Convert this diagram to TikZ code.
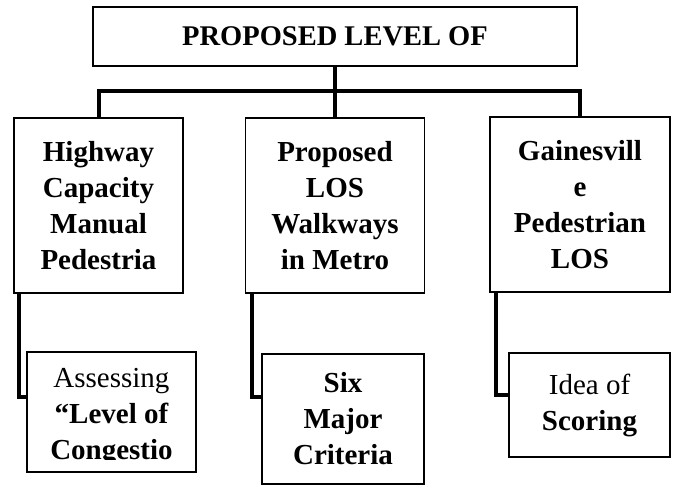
\documentclass[tikz,border=0pt]{standalone}
\usepackage{fontspec}
\setmainfont{Liberation Serif}
\usetikzlibrary{positioning}

\begin{document}
\begin{tikzpicture}[x=1pt, y=-1pt,
    box/.style={draw, line width=1.5pt, inner sep=0pt, align=center,
                font=\bfseries\fontsize{29}{36}\selectfont},
    link/.style={line width=4pt, line join=miter}]
    \useasboundingbox (0,0) rectangle (673,485);

    % Draw title box
    \node[box, minimum width=484pt, minimum height=59pt,
          font=\bfseries\fontsize{28.5}{32}\selectfont] (top) at (335,36.5) {PROPOSED LEVEL OF};

    % Draw the three upper boxes
    \node[box, minimum width=169pt, minimum height=175pt] (hcm) at (98.5,205.5)
        {Highway\\Capacity\\Manual\\Pedestria};
    \node[box, minimum width=179pt, minimum height=175pt] (los) at (335,205.5)
        {Proposed\\LOS\\Walkways\\in Metro};
    \node[box, minimum width=180pt, minimum height=175pt] (gnv) at (580,204.5)
        {Gainesvill\\e\\Pedestrian\\LOS};

    % Draw the three lower boxes
    \node[box, minimum width=169pt, minimum height=120pt] (assess) at (111.5,412) {};
    \begin{scope}
        \clip (assess.north west) rectangle (assess.east |- 0,459);
        \node[box, draw=none] (assesstext) at (111.5,417)
            {{\mdseries Assessing}\\“Level of\\Congestio};
    \end{scope}
    \node[box, minimum width=162pt, minimum height=130pt] (six) at (343,419)
        {Six\\Major\\Criteria};
    \node[box, minimum width=161pt, minimum height=104pt] (idea) at (589.5,405)
        {{\mdseries Idea of}\\Scoring};

    % Draw connectors
    \draw[link] (top.south) -- (los.north);
    \draw[link] (hcm.north) -- ++(0,-26) -| (gnv.north);
    \draw[link] ([xshift=6pt]hcm.south west) |- ([yshift=15pt]assess.west);
    \draw[link] ([xshift=7pt]los.south west) |- ([yshift=22pt]six.west);
    \draw[link] ([xshift=7pt]gnv.south west) |- ([yshift=10pt]idea.west);
\end{tikzpicture}
\end{document}
